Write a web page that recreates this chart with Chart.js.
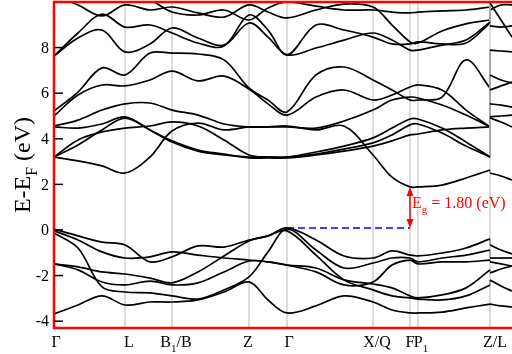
<!DOCTYPE html>
<html>
<head>
<meta charset="utf-8">
<script src="https://cdn.jsdelivr.net/npm/chart.js@4/dist/chart.umd.min.js"></script>
<style>
  html, body { margin: 0; padding: 0; background: #fff; }
</style>
</head>
<body>
<canvas id="bands" width="512" height="354"></canvas>
<script>
// k path (distance along the path), two entries at 436 for the Z/L break
const kGrid = [0, 24, 48, 71, 96, 118, 144, 170, 195, 214, 233, 262, 290, 319, 338, 356, 364, 388, 412, 436, 436, 447, 458];
const breakAt = 20; // first index after the Z/L break
const kPoints = [0, 71, 118, 195, 233, 319, 356, 364, 436];
const kLabels = [['Γ', ''], ['L', ''], ['B', '1', '/B'], ['Z', ''], ['Γ', ''], ['X/Q', ''], ['F', ''], ['P', '1'], ['Z/L', '']];
const yTicks = [-4, -2, 0, 2, 4, 6, 8];

// valence bands (eV)
const vA = [0.04, -0.26, -0.53, -0.66, -1.40, -1.18, -0.70, -0.75, -0.44, -0.26, 0.09, -0.44, -1.14, -1.23, -0.92, -1.10, -1.14, -1.01, -0.79, -0.39, -0.66, -0.88, -1.05];
const vB = [-0.04, -0.44, -0.96, -1.23, -1.18, -0.96, -1.10, -1.23, -1.32, -1.40, -1.54, -1.67, -2.19, -2.37, -2.54, -2.89, -2.98, -2.85, -2.54, -1.75, -1.89, -1.71, -1.58];
const vC = [-0.13, -0.79, -2.50, -2.72, -2.76, -2.89, -3.03, -2.63, -2.06, -0.96, 0.04, -0.88, -1.67, -1.45, -1.23, -1.23, -1.40, -1.23, -1.10, -0.88, -1.23, -1.23, -1.23];
const vD = [-1.49, -1.62, -1.84, -1.93, -2.11, -2.32, -1.84, -1.14, -0.48, -0.26, -0.04, -1.10, -2.19, -2.63, -2.89, -2.98, -3.03, -3.07, -2.89, -2.41, -2.19, -2.46, -2.68];
const vE = [-1.49, -1.75, -2.28, -2.41, -2.24, -2.41, -2.32, -1.84, -1.36, -1.40, -1.54, -1.84, -2.41, -2.28, -1.54, -1.32, -1.49, -1.40, -1.40, -1.32, -1.40, -1.49, -1.58];
const vF = [-3.68, -3.29, -2.89, -3.29, -3.16, -3.16, -3.07, -2.72, -2.28, -3.07, -3.64, -3.33, -2.89, -3.16, -3.51, -3.64, -3.64, -3.60, -3.42, -3.25, -3.25, -3.33, -3.38];

// conduction bands (eV)
const c1 = [3.20, 3.03, 2.81, 2.50, 3.20, 4.34, 4.69, 4.39, 4.52, 4.52, 4.56, 4.39, 4.56, 3.29, 2.32, 1.89, 1.89, 1.97, 2.28, 2.63, 2.50, 2.37, 2.19];
const c2 = [3.20, 3.73, 4.39, 4.91, 4.39, 3.86, 3.46, 3.29, 3.20, 3.20, 3.20, 3.42, 3.68, 4.04, 4.47, 4.87, 4.87, 4.47, 3.86, 3.20, 4.91, 4.74, 4.52];
const c3 = [3.20, 3.95, 4.30, 4.47, 4.56, 4.74, 4.56, 3.95, 3.29, 3.20, 3.20, 3.33, 3.55, 3.82, 4.17, 4.61, 4.65, 4.25, 3.68, 3.20, 4.96, 5.00, 5.04];
const c4 = [4.52, 4.47, 4.65, 4.96, 4.39, 3.91, 3.51, 3.33, 3.16, 3.16, 3.16, 3.29, 3.46, 3.68, 3.91, 4.17, 4.21, 4.39, 4.47, 4.52, 5.53, 5.48, 5.39];
const c5 = [4.56, 4.82, 5.26, 5.53, 5.57, 5.26, 5.04, 4.65, 4.52, 4.52, 4.52, 4.47, 4.78, 5.26, 5.70, 5.83, 5.79, 5.48, 5.04, 4.52, 6.14, 6.32, 6.49];
const c6 = [5.00, 5.92, 6.36, 6.32, 6.58, 6.97, 6.54, 6.75, 6.18, 5.53, 5.04, 5.83, 6.14, 5.70, 5.92, 6.27, 6.36, 6.14, 5.26, 4.52, 6.80, 6.58, 6.45];
const c7 = [5.22, 6.05, 7.11, 6.80, 7.76, 7.76, 7.72, 7.46, 6.23, 5.70, 5.18, 6.80, 7.15, 6.58, 6.14, 5.70, 5.70, 5.83, 7.46, 6.23, 7.89, 7.85, 7.81];
const c8 = [7.63, 8.42, 8.77, 7.81, 8.16, 8.86, 8.42, 8.11, 9.08, 8.46, 7.68, 7.98, 8.33, 8.64, 8.33, 7.89, 7.89, 8.11, 8.33, 9.12, 8.95, 8.90, 8.95];
const c9 = [7.63, 8.64, 9.47, 8.90, 8.99, 8.64, 8.20, 8.07, 9.43, 8.77, 7.68, 8.99, 8.77, 8.46, 8.16, 8.16, 8.25, 8.16, 8.20, 9.08, 9.96, 9.21, 8.46];
const c10 = [10.31, 9.87, 9.39, 9.87, 9.65, 9.78, 9.52, 9.34, 9.87, 9.56, 9.30, 9.65, 9.91, 9.78, 8.99, 8.25, 8.20, 8.73, 9.04, 9.21, 9.65, 9.87, 9.87];
const c11 = [10.53, 10.35, 10.00, 10.35, 10.09, 9.56, 9.43, 9.65, 9.21, 9.74, 10.00, 9.82, 9.65, 9.65, 9.56, 9.52, 9.56, 9.61, 9.65, 9.78, 10.09, 10.31, 10.44];

// band gap: VBM at second Γ, CBM at F
const vbmK = 233, cbmK = 356;
const vbm = 0.09, cbm = 1.89;
const gapText = '1.80';

const allBands = [vA, vB, vC, vD, vE, vF, c1, c2, c3, c4, c5, c6, c7, c8, c9, c10, c11];
const labelShift = [2, 4, 4, -1, 2, 4, 0, 3, 5];
const serif = '"Liberation Serif", "DejaVu Serif", serif';

const toPts = (b, from, to) => b.slice(from, to).map((e, i) => ({ x: kGrid[from + i], y: e }));
const line = (data, color, width, tension) => ({
    data, borderColor: color, borderWidth: width, pointRadius: 0, tension, clip: 0
});

const datasets = [];
allBands.forEach(b => {
    datasets.push(line(toPts(b, 0, breakAt), '#000', 1.7, 0.35));
    datasets.push(line(toPts(b, breakAt, b.length), '#000', 1.7, 0.35));
    // the jump at the Z/L break, grey
    datasets.push(line(toPts(b, breakAt - 1, breakAt + 1), '#a8a8a8', 2, 0));
});

datasets.push({
    ...line([{ x: vbmK, y: vbm }, { x: cbmK, y: vbm }], '#0000ff', 1.5, 0),
    borderDash: [7, 4]
});

// draws text with one subscript part: [main, sub, rest]
function subText(ctx, parts, x, y, size, align) {
    const main = parts[0], sub = parts[1] || '', rest = parts[2] || '';
    const small = Math.round(size * 0.68);
    ctx.font = size + 'px ' + serif;
    const w1 = ctx.measureText(main).width;
    const w3 = ctx.measureText(rest).width;
    ctx.font = small + 'px ' + serif;
    const w2 = ctx.measureText(sub).width;
    const x0 = align === 'center' ? x - (w1 + w2 + w3) / 2 : x;
    ctx.textAlign = 'left';
    ctx.textBaseline = 'alphabetic';
    ctx.font = size + 'px ' + serif;
    ctx.fillText(main, x0, y);
    ctx.font = small + 'px ' + serif;
    ctx.fillText(sub, x0 + w1, y + size * 0.3);
    ctx.font = size + 'px ' + serif;
    ctx.fillText(rest, x0 + w1 + w2, y);
}

const decor = {
    id: 'decor',
    beforeDatasetsDraw(chart) {
        const { ctx, chartArea: a, scales: { x } } = chart;
        ctx.save();
        ctx.strokeStyle = '#d0d0d0';
        ctx.lineWidth = 1.5;
        kPoints.slice(1).forEach(k => {
            const px = x.getPixelForValue(k);
            ctx.beginPath();
            ctx.moveTo(px, a.top);
            ctx.lineTo(px, a.bottom);
            ctx.stroke();
        });
        ctx.restore();
    },
    afterDatasetsDraw(chart) {
        const { ctx, chartArea: a, scales: { x, y } } = chart;
        ctx.save();

        // red frame (open on the right)
        ctx.strokeStyle = '#ff0000';
        ctx.lineWidth = 2.5;
        ctx.beginPath();
        ctx.moveTo(a.right + 3, a.top);
        ctx.lineTo(a.left, a.top);
        ctx.lineTo(a.left, a.bottom);
        ctx.lineTo(a.right + 3, a.bottom);
        ctx.stroke();

        // y ticks, inside
        ctx.strokeStyle = '#000';
        ctx.lineWidth = 1.5;
        ctx.fillStyle = '#000';
        ctx.font = '16px ' + serif;
        ctx.textAlign = 'right';
        ctx.textBaseline = 'middle';
        yTicks.forEach(t => {
            const py = y.getPixelForValue(t);
            ctx.beginPath();
            ctx.moveTo(a.left, py);
            ctx.lineTo(a.left + 9, py);
            ctx.stroke();
            ctx.fillText(String(t), a.left - 5, py + 1);
        });

        // k-point labels
        kLabels.forEach((lab, i) => {
            const px = x.getPixelForValue(kPoints[i]) + labelShift[i];
            subText(ctx, lab, px, a.bottom + 19, 16, 'center');
        });

        // axis title
        ctx.save();
        ctx.translate(30, (a.top + a.bottom) / 2);
        ctx.rotate(-Math.PI / 2);
        subText(ctx, ['E-E', 'F', ' (eV)'], 0, 0, 24, 'center');
        ctx.restore();

        // gap arrow
        const ax = x.getPixelForValue(cbmK);
        const y0 = y.getPixelForValue(vbm);
        const y1 = y.getPixelForValue(cbm);
        ctx.strokeStyle = '#ff0000';
        ctx.fillStyle = '#ff0000';
        ctx.lineWidth = 1.5;
        ctx.beginPath();
        ctx.moveTo(ax, y0 - 6);
        ctx.lineTo(ax, y1 + 6);
        ctx.stroke();
        ctx.beginPath();
        ctx.moveTo(ax, y1);
        ctx.lineTo(ax - 3.5, y1 + 9);
        ctx.lineTo(ax + 3.5, y1 + 9);
        ctx.closePath();
        ctx.fill();
        ctx.beginPath();
        ctx.moveTo(ax, y0);
        ctx.lineTo(ax - 3.5, y0 - 9);
        ctx.lineTo(ax + 3.5, y0 - 9);
        ctx.closePath();
        ctx.fill();

        subText(ctx, ['E', 'g', ' = ' + gapText + ' (eV)'], ax + 2, (y0 + y1) / 2 + 1, 16, 'left');

        ctx.restore();
    }
};

new Chart(document.getElementById('bands'), {
    type: 'line',
    data: { datasets },
    options: {
        responsive: false,
        animation: false,
        devicePixelRatio: 1,
        layout: { padding: { left: 54, top: 2, right: 0, bottom: 26 } },
        scales: {
            x: { type: 'linear', min: 0, max: 458, display: false },
            y: { min: -4.3, max: 10, display: false }
        },
        plugins: {
            legend: { display: false },
            tooltip: { enabled: false }
        }
    },
    plugins: [decor]
});
</script>
</body>
</html>
